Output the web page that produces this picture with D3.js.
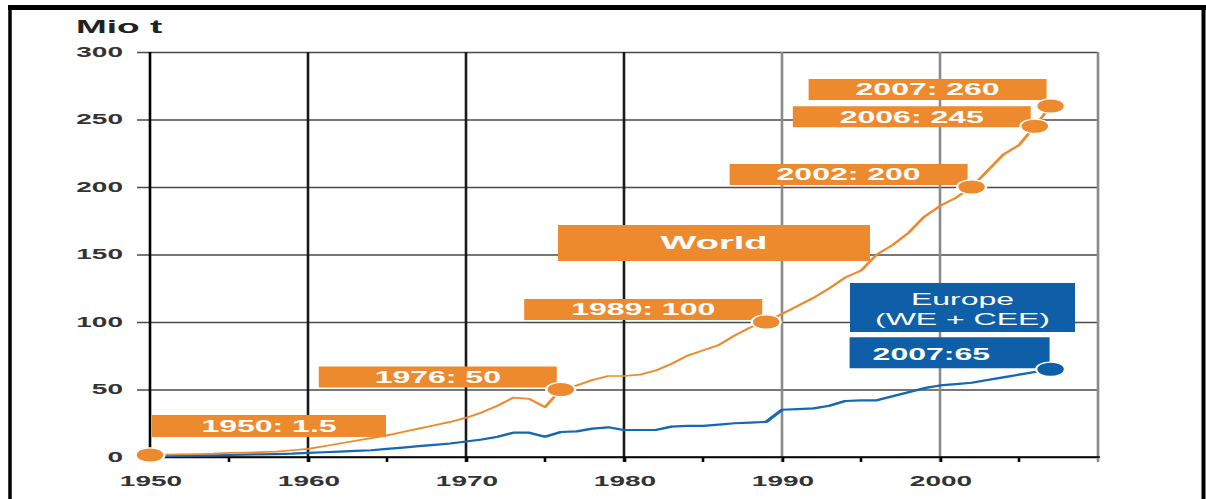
<!DOCTYPE html>
<html><head><meta charset="utf-8">
<script src="https://cdn.jsdelivr.net/npm/d3@7"></script>
<style>html,body{margin:0;padding:0;background:#fff;} svg{display:block;font-family:"Liberation Sans",Arial,sans-serif;}</style>
</head><body><svg id="chart" width="1206" height="499"></svg>
<script>
// ---------- data ----------
const years = d3.range(1950, 2008);
const worldValues = [
  1.5, 1.7, 1.9, 2.2, 2.5, 3, 3.3, 3.6, 4, 5,
  6, 8, 10, 12, 14, 16, 18.5, 21, 23.5, 26,
  29, 33, 38, 44, 43, 37, 50, 53, 57, 60,
  60, 61, 64, 69, 75, 79, 83, 90, 96, 100,
  106, 112, 118, 125, 133, 138, 150, 157, 166, 178,
  186, 192, 200, 212, 224, 231, 245, 260
];
const europeValues = [
  0.5, 0.6, 0.8, 1, 1.2, 1.5, 1.7, 2, 2.2, 2.5,
  3, 3.5, 4, 4.5, 5, 6, 7, 8, 9, 10,
  11.5, 13, 15, 18, 18, 15, 18.5, 19, 21, 22,
  20, 20, 20, 22.5, 23, 23, 24, 25, 25.5, 26,
  35, 35.5, 36, 38, 41.5, 42, 42, 45, 48, 51,
  53, 54, 55, 57, 59, 61, 63, 65
];
const yTickValues = [0, 50, 100, 150, 200, 250, 300];
const xTickValues = [1950, 1960, 1970, 1980, 1990, 2000];
const xGridValues = [1960, 1970, 1980, 1990, 2000, 2010];
const xMinorTicks = [1955, 1965, 1975, 1985, 1995, 2005];
const worldAnnoYears = [1950, 1976, 1989, 2002, 2006, 2007];
const worldAnnoValues = [1.5, 50, 100, 200, 245, 260];
const worldAnnoLabels = ["1950: 1.5", "1976: 50", "1989: 100", "2002: 200", "2006: 245", "2007: 260"];
const europeAnnoYears = [2007];
const europeAnnoValues = [65];
const europeAnnoLabels = ["2007:65"];
const worldName = "World";
const europeNameLines = ["Europe", "(WE + CEE)"];
const unitLabel = "Mio t";

// ---------- styles ----------
const ORANGE = "#EE8A2E", BLUE = "#0E5FA8", BLUE_LINE = "#1568B4";
const SX = 2; // original chart is stretched horizontally
// vertical offsets of the annotation boxes relative to their dot (layout only)
const worldBoxDy = [-18, -2, -2, -2, 1, -6];

const svg = d3.select("#chart");
// frame
svg.append("line").attr("x1", 8).attr("x2", 1206).attr("y1", 7.5).attr("y2", 7.5).attr("stroke", "#000").attr("stroke-width", 5);
svg.append("line").attr("x1", 10).attr("x2", 10).attr("y1", 5).attr("y2", 499).attr("stroke", "#000").attr("stroke-width", 3.5);
svg.append("line").attr("x1", 1203.5).attr("x2", 1203.5).attr("y1", 5).attr("y2", 499).attr("stroke", "#000").attr("stroke-width", 4);

const g = svg.append("g").attr("transform", `scale(${SX},1)`);

const x = d3.scaleLinear().domain([1950, 2010]).range([75, 549]);
const y = d3.scaleLinear().domain([0, 300]).range([457, 52]);
const gridLeft = 68.5;

// horizontal gridlines + y labels
const yAxis = d3.axisLeft(y).tickValues(yTickValues).tickSize(x.range()[1] - gridLeft).tickPadding(7).tickFormat(d3.format("d"));
g.append("g").attr("transform", `translate(${x.range()[1]},0)`).call(yAxis)
  .attr("font-family", null).attr("font-size", null)
  .call(a => a.select(".domain").remove())
  .call(a => a.selectAll("line").attr("stroke", d => d === 0 ? "#111" : "#4a4a4a").attr("stroke-width", 1.3))
  .call(a => a.selectAll("text").attr("font-size", 14).attr("font-weight", "bold").attr("fill", "#333"));

// vertical gridlines
g.append("g").selectAll("line").data(xGridValues).join("line")
  .attr("x1", d => x(d)).attr("x2", d => x(d))
  .attr("y1", y(300)).attr("y2", y(0) + 5)
  .attr("stroke", d => d <= 1980 ? "#1a1a1a" : "#8a8a8a").attr("stroke-width", 1.3);

// y axis line
g.append("line").attr("x1", x(1950)).attr("x2", x(1950)).attr("y1", y(300)).attr("y2", y(0) + 5)
  .attr("stroke", "#000").attr("stroke-width", 1.3);

// x axis
const xAxis = d3.axisBottom(x).tickValues(xTickValues).tickSize(5).tickFormat(d3.format("d"));
g.append("g").attr("transform", `translate(0,${y(0)})`).call(xAxis)
  .attr("font-family", null).attr("font-size", null)
  .call(a => a.select(".domain").remove())
  .call(a => a.selectAll("line").attr("stroke", "#000").attr("stroke-width", 1.3))
  .call(a => a.selectAll("text").attr("y", 29).attr("dy", 0).attr("font-size", 14).attr("font-weight", "bold").attr("fill", "#333"));
g.append("line").attr("x1", gridLeft).attr("x2", x.range()[1] + 1).attr("y1", y(0)).attr("y2", y(0))
  .attr("stroke", "#000").attr("stroke-width", 1.6);
g.append("g").selectAll("line").data(xMinorTicks).join("line")
  .attr("x1", d => x(d)).attr("x2", d => x(d)).attr("y1", y(0)).attr("y2", y(0) + 5)
  .attr("stroke", "#000").attr("stroke-width", 1.3);

// unit label
g.append("text").attr("x", 38).attr("y", 33).attr("font-size", 18.5).attr("font-weight", "bold").attr("fill", "#222").text(unitLabel);

// lines
const line = d3.line().x((d, i) => x(years[i])).y(d => y(d));
g.append("path").datum(europeValues).attr("d", line).attr("fill", "none").attr("stroke", BLUE_LINE).attr("stroke-width", 2.2).attr("stroke-linejoin", "round");
g.append("path").datum(worldValues).attr("d", line).attr("fill", "none").attr("stroke", ORANGE).attr("stroke-width", 1.7).attr("stroke-linejoin", "round");

// series label boxes
const worldBox = { x0: 279, y0: 225, w: 156, h: 36 };
g.append("rect").attr("x", worldBox.x0).attr("y", worldBox.y0).attr("width", worldBox.w).attr("height", worldBox.h).attr("fill", ORANGE);
g.append("text").attr("x", worldBox.x0 + worldBox.w / 2).attr("y", worldBox.y0 + 24).attr("text-anchor", "middle")
  .attr("font-size", 19).attr("font-weight", "bold").attr("fill", "#fff").text(worldName);

const euBox = { x0: 425, y0: 283, w: 112.5, h: 49 };
g.append("rect").attr("x", euBox.x0).attr("y", euBox.y0).attr("width", euBox.w).attr("height", euBox.h).attr("fill", BLUE);
g.append("g").selectAll("text").data(europeNameLines).join("text")
  .attr("x", euBox.x0 + euBox.w / 2).attr("y", (d, i) => euBox.y0 + 22 + i * 20).attr("text-anchor", "middle")
  .attr("font-size", 16).attr("fill", "#fff").text(d => d);

// value annotations (world)
const worldBoxLayout = i => i === 0 ? { side: "left", dx: 1, dy: worldBoxDy[i], w: 117, h: 22 } : { side: "right", dx: -2, dy: worldBoxDy[i], w: 119, h: 21 };
worldAnnoYears.forEach((yr, i) => {
  const px = x(yr), py = y(worldAnnoValues[i]);
  const L = worldBoxLayout(i);
  const left = L.side === "left" ? px + L.dx : px + L.dx - L.w;
  const top = py + L.dy - L.h;
  g.append("rect").attr("x", left).attr("y", top).attr("width", L.w).attr("height", L.h).attr("fill", ORANGE);
  g.append("text").attr("x", left + L.w / 2).attr("y", top + L.h / 2 + 5.8).attr("text-anchor", "middle")
    .attr("font-size", 16).attr("font-weight", "bold").attr("fill", "#fff").text(worldAnnoLabels[i]);
});
// value annotations (europe)
europeAnnoYears.forEach((yr, i) => {
  const px = x(yr), py = y(europeAnnoValues[i]);
  const w = 100, h = 31;
  const left = px - 0.5 - w, top = py - 1 - h;
  g.append("rect").attr("x", left).attr("y", top).attr("width", w).attr("height", h).attr("fill", BLUE);
  g.append("text").attr("x", left + 11.5).attr("y", top + h - 8.5)
    .attr("font-size", 16).attr("font-weight", "bold").attr("fill", "#fff").text(europeAnnoLabels[i]);
});

// dots
g.append("g").selectAll("circle").data(worldAnnoYears).join("circle")
  .attr("cx", d => x(d)).attr("cy", (d, i) => y(worldAnnoValues[i])).attr("r", 7.2)
  .attr("fill", ORANGE).attr("stroke", "#fff").attr("stroke-width", 1.2);
g.append("g").selectAll("circle").data(europeAnnoYears).join("circle")
  .attr("cx", d => x(d)).attr("cy", (d, i) => y(europeAnnoValues[i])).attr("r", 7.2)
  .attr("fill", BLUE).attr("stroke", "#fff").attr("stroke-width", 1.2);
</script>
</body></html>
